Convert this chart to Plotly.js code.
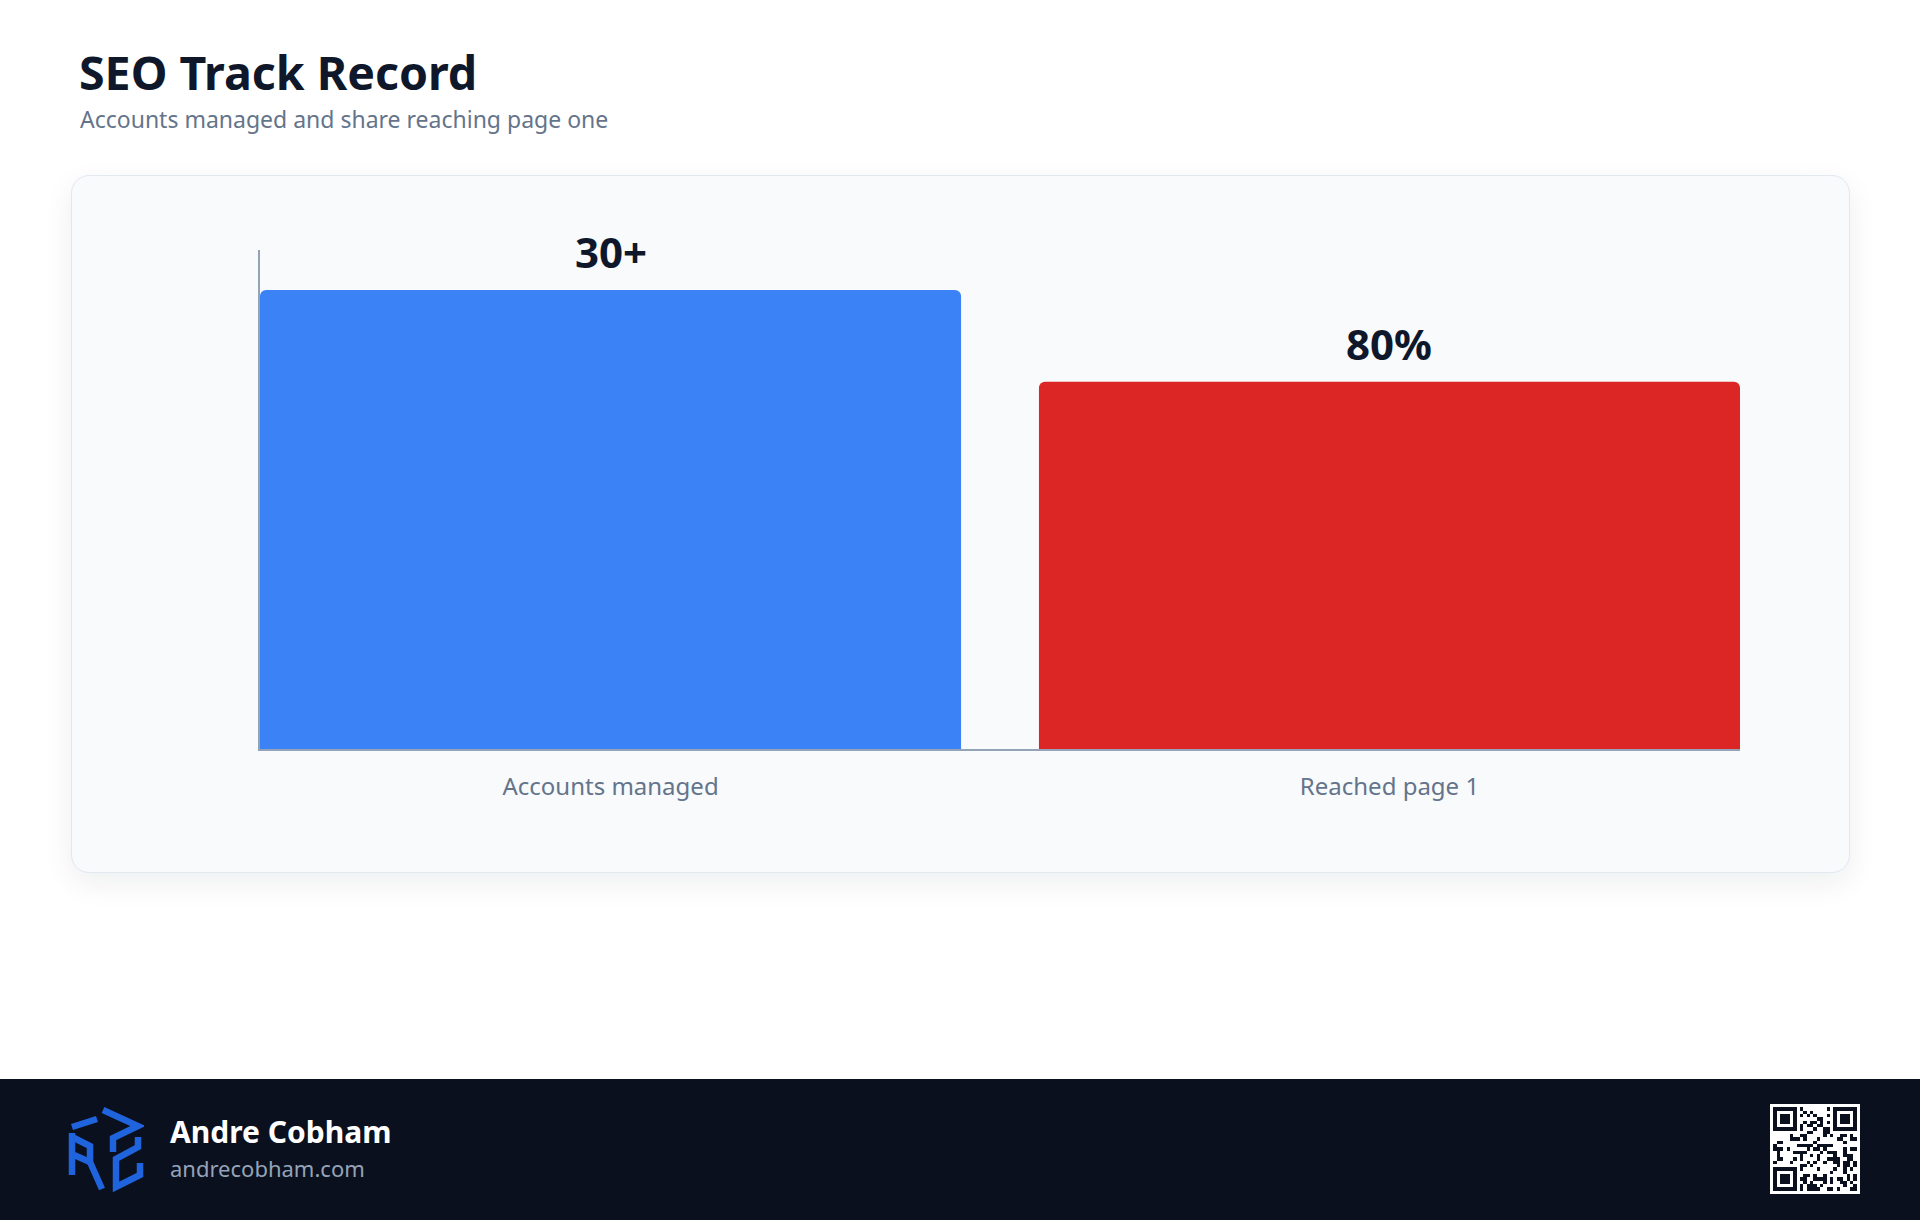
<!DOCTYPE html>
<html>
<head>
<meta charset="utf-8">
<script src="https://cdn.plot.ly/plotly-3.0.1.min.js"></script>
<style>
  html, body { margin: 0; padding: 0; background: #ffffff; }
  body { width: 1920px; height: 1220px; position: relative; overflow: hidden; font-family: "Noto Sans", "Open Sans", sans-serif; }
  #title { position: absolute; left: 79px; top: 49px; font-size: 46.5px; line-height: 1; font-weight: 700; color: #0f172a; white-space: nowrap; }
  #subtitle { position: absolute; left: 80px; top: 108px; font-size: 23px; line-height: 1; color: #64748b; white-space: nowrap; }
  #card { position: absolute; left: 71px; top: 175px; width: 1777px; height: 696px; background: #f8fafc; border: 1.5px solid #e2e8f0; border-radius: 18px; box-shadow: 0 10px 30px rgba(15,23,42,0.07); }
  #chart { position: absolute; left: 72px; top: 175px; width: 1776px; height: 698px; }
  #footer { position: absolute; left: 0; top: 1079px; width: 1920px; height: 141px; background: #0b101e; }
  #logo { position: absolute; left: 66px; top: 1107px; width: 78px; height: 86px; }
  #name { position: absolute; left: 170px; top: 1117px; font-size: 30px; line-height: 1; font-weight: 700; color: #ffffff; white-space: nowrap; }
  #site { position: absolute; left: 170px; top: 1157px; font-size: 22px; line-height: 1; color: #94a3b8; white-space: nowrap; }
  #qr { position: absolute; left: 1770px; top: 1104px; width: 90px; height: 90px; }
</style>
</head>
<body>
<div id="title">SEO Track Record</div>
<div id="subtitle">Accounts managed and share reaching page one</div>
<div id="card"></div>
<div id="chart"></div>
<div id="footer"></div>
<svg id="logo" viewBox="0 0 78 86">
  <g fill="none" stroke="#1f63dd" stroke-width="6.5" stroke-linejoin="miter" stroke-linecap="butt">
    <polyline points="37,3 72,19 47,31 47,45"/>
    <polyline points="6,20 31,12"/>
    <polyline points="6,26 6,68"/>
    <polyline points="6,30 24,39 24,55 8,48"/>
    <polyline points="24,55 36,82"/>
    <polyline points="72,30 72,40 50,52 50,80 74,68 74,56"/>
  </g>
</svg>
<div id="name">Andre Cobham</div>
<div id="site">andrecobham.com</div>
<svg id="qr" viewBox="0 0 27 27" shape-rendering="crispEdges"></svg>
<script>
// ---- data ----
var categories = ["Accounts managed", "Reached page 1"];
var values = [100, 80];
var valueLabels = ["30+", "80%"];
var barColors = ["#3b82f6", "#dc2626"];

var trace = {
  type: "bar",
  x: categories,
  y: values,
  marker: { color: barColors, cornerradius: 6 },
  hoverinfo: "skip"
};

var annotations = categories.map(function (c, i) {
  return {
    x: c, y: values[i], xref: "x", yref: "y",
    text: "<b>" + valueLabels[i] + "</b>",
    showarrow: false, yanchor: "bottom", yshift: 8,
    font: { family: "Noto Sans, sans-serif", size: 42, color: "#0f172a" }
  };
});

var layout = {
  width: 1776, height: 698,
  margin: { l: 188, r: 108, t: 75, b: 124 },
  paper_bgcolor: "rgba(0,0,0,0)",
  plot_bgcolor: "rgba(0,0,0,0)",
  bargap: 0.1,
  showlegend: false,
  xaxis: {
    type: "category",
    range: [-0.45, 1.45],
    showline: true, linecolor: "#94a3b8", linewidth: 2,
    showgrid: false, zeroline: false, ticks: "",
    ticklabelstandoff: 15,
    tickfont: { family: "Noto Sans, sans-serif", size: 24, color: "#64748b" },
    fixedrange: true
  },
  yaxis: {
    range: [0, 108.7],
    showline: true, linecolor: "#94a3b8", linewidth: 2,
    showgrid: false, zeroline: false, showticklabels: false, ticks: "",
    fixedrange: true
  },
  annotations: annotations,
  font: { family: "Noto Sans, sans-serif" }
};

Plotly.newPlot("chart", [trace], layout, { displayModeBar: false, staticPlot: true });

// ---- decorative QR-like pattern (deterministic) ----
(function () {
  var svg = document.getElementById("qr");
  var ns = "http://www.w3.org/2000/svg";
  function rect(x, y, w, h, fill) {
    var r = document.createElementNS(ns, "rect");
    r.setAttribute("x", x); r.setAttribute("y", y);
    r.setAttribute("width", w); r.setAttribute("height", h);
    r.setAttribute("fill", fill); svg.appendChild(r);
  }
  rect(0, 0, 27, 27, "#ffffff");
  var N = 25, off = 1;
  function inFinder(i, j) {
    return (i < 8 && j < 8) || (i < 8 && j >= N - 8) || (i >= N - 8 && j < 8);
  }
  var seed = "andrecobham.com/seo-track-record";
  for (var i = 0; i < N; i++) {
    for (var j = 0; j < N; j++) {
      if (inFinder(i, j)) continue;
      var c = seed.charCodeAt((i * 3 + j * 5) % seed.length);
      var v = (c * (i + 3) + j * 11 + ((i * j) % 7)) % 5;
      if (v < 2) rect(off + j, off + i, 1, 1, "#0b101e");
    }
  }
  function finder(r, c) {
    rect(off + c, off + r, 7, 7, "#0b101e");
    rect(off + c + 1, off + r + 1, 5, 5, "#ffffff");
    rect(off + c + 2, off + r + 2, 3, 3, "#0b101e");
  }
  finder(0, 0); finder(0, N - 7); finder(N - 7, 0);
})();
</script>
</body>
</html>
